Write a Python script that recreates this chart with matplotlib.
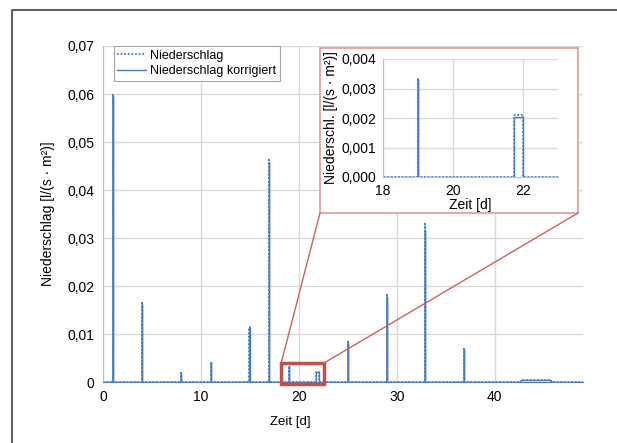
import matplotlib
matplotlib.use("Agg")
import matplotlib.pyplot as plt
from matplotlib.patches import Rectangle
from matplotlib.lines import Line2D
from matplotlib.ticker import FuncFormatter

plt.rcParams['font.family'] = ['Liberation Sans', 'DejaVu Sans']

# Regenereignisse: Beginn, Ende [d], Niederschlag, korrigiert [l/(s*m2)]
t_start = [1.0, 4.0, 8.0, 11.0, 14.95, 16.9, 18.99, 21.75, 25.0, 29.0, 32.85, 36.85, 42.7]
t_end = [1.01, 4.01, 8.01, 11.01, 14.96, 16.91, 19.0, 22.0, 25.01, 29.01, 32.86, 36.86, 45.7]
niederschlag = [0.0600, 0.0165, 0.0019, 0.0042, 0.0115, 0.0462, 0.00335, 0.00210,
                0.0084, 0.0181, 0.0329, 0.0069, 0.0005]
korrigiert = [0.0595, 0.0163, 0.0017, 0.0042, 0.0113, 0.0458, 0.00333, 0.00205,
              0.0082, 0.0178, 0.0317, 0.0067, 0.0004]
t_max = 49


def zeitreihe(werte):
    t = [0.0]
    y = [0.0]
    for a, b, v in zip(t_start, t_end, werte):
        t += [a, a, b, b]
        y += [0.0, v, v, 0.0]
    t.append(t_max)
    y.append(0.0)
    return t, y


t_n, y_n = zeitreihe(niederschlag)
t_k, y_k = zeitreihe(korrigiert)

blau = '#4a7ebb'
rot = '#c0504d'
gitter = '#d9d9d9'
punkte = (0, (1, 1))
komma3 = FuncFormatter(lambda v, p: ('%.3f' % v).replace('.', ','))

fig = plt.figure(figsize=(6.17, 4.43), dpi=100)

# Rahmen um die Grafik
fig.add_artist(Line2D([12 / 617, 12 / 617, 1.0], [0.0, 1 - 9.5 / 443, 1 - 9.5 / 443],
                      transform=fig.transFigure, color='#606060', lw=1.5))

# Hauptdiagramm
ax = fig.add_axes([103 / 617, 1 - 382 / 443, 480 / 617, 336 / 443])
ax.plot(t_n, y_n, linestyle=punkte, color=blau, lw=1.3, label='Niederschlag')
ax.plot(t_k, y_k, '-', color=blau, lw=1.0, label='Niederschlag korrigiert')
ax.set_xlim(0, t_max)
ax.set_ylim(0, 0.07)
ax.set_xticks([0, 10, 20, 30, 40])
ax.set_yticks([0, 0.01, 0.02, 0.03, 0.04, 0.05, 0.06, 0.07])
ax.yaxis.set_major_formatter(FuncFormatter(lambda v, p: '0' if v == 0 else ('%.2f' % v).replace('.', ',')))
ax.grid(True, color=gitter, lw=1)
ax.set_axisbelow(True)
for s in ['top', 'right']:
    ax.spines[s].set_visible(False)
ax.spines['left'].set_color('#bfbfbf')
ax.spines['bottom'].set_color(blau)
ax.tick_params(length=0, labelsize=10, pad=6)
ax.set_xlabel('Zeit [d]', fontsize=9.5)
ax.xaxis.set_label_coords(0.39, -0.1)
ax.set_ylabel('Niederschlag [l/(s · m²)]', fontsize=10)
ax.yaxis.set_label_coords(-0.1, 0.5)
leg = ax.legend(loc='upper left', bbox_to_anchor=(0.022, 1.0), fontsize=9,
                fancybox=False, edgecolor='#a6a6a6', framealpha=1,
                handlelength=2.3, handletextpad=0.3, borderpad=0.3,
                labelspacing=0.25, borderaxespad=0)
leg.get_frame().set_linewidth(0.8)

# Markierung des Ausschnitts
x0, x1, y0, y1 = 18.2, 22.6, -0.0004, 0.004
ax.add_patch(Rectangle((x0, y0), x1 - x0, y1 - y0, fill=False, ec=rot, lw=2.5,
                       clip_on=False, zorder=5))

# Rahmen des Ausschnitts (Abbildungskoordinaten)
fl, fr, fb, ft = 320 / 617, 578 / 617, 1 - 213 / 443, 1 - 48 / 443
fig.add_artist(Rectangle((fl, fb), fr - fl, ft - fb, transform=fig.transFigure,
                         fc='white', ec='#e09a99', lw=1.2, zorder=3))

# Verbindungslinien
p0 = fig.transFigure.inverted().transform(ax.transData.transform((x0, y1)))
p1 = fig.transFigure.inverted().transform(ax.transData.transform((x1, y1)))
fig.add_artist(Line2D([p0[0], fl], [p0[1], fb], transform=fig.transFigure,
                      color='#d0605e', lw=1.0, zorder=4))
fig.add_artist(Line2D([p1[0], fr], [p1[1], fb], transform=fig.transFigure,
                      color='#d0605e', lw=1.0, zorder=4))

# Ausschnitt
ins = fig.add_axes([383 / 617, 1 - 177 / 443, 175 / 617, 118 / 443], zorder=6)
ins.plot(t_n, y_n, linestyle=punkte, color=blau, lw=1.3)
ins.plot(t_k, y_k, '-', color=blau, lw=1.0)
ins.set_xlim(18, 23)
ins.set_ylim(0, 0.004)
ins.set_xticks([18, 20, 22])
ins.set_yticks([0, 0.001, 0.002, 0.003, 0.004])
ins.yaxis.set_major_formatter(komma3)
ins.grid(True, color=gitter, lw=1)
ins.set_axisbelow(True)
for s in ['top', 'right']:
    ins.spines[s].set_visible(False)
ins.spines['left'].set_color('#bfbfbf')
ins.spines['bottom'].set_color('#a9c4e6')
ins.tick_params(length=0, labelsize=10, pad=5)
ins.set_xlabel('Zeit [d]', fontsize=10, labelpad=0)
ins.set_ylabel('Niederschl. [l/(s · m²)]', fontsize=10, labelpad=2)

fig.savefig('out.png', dpi=100)
